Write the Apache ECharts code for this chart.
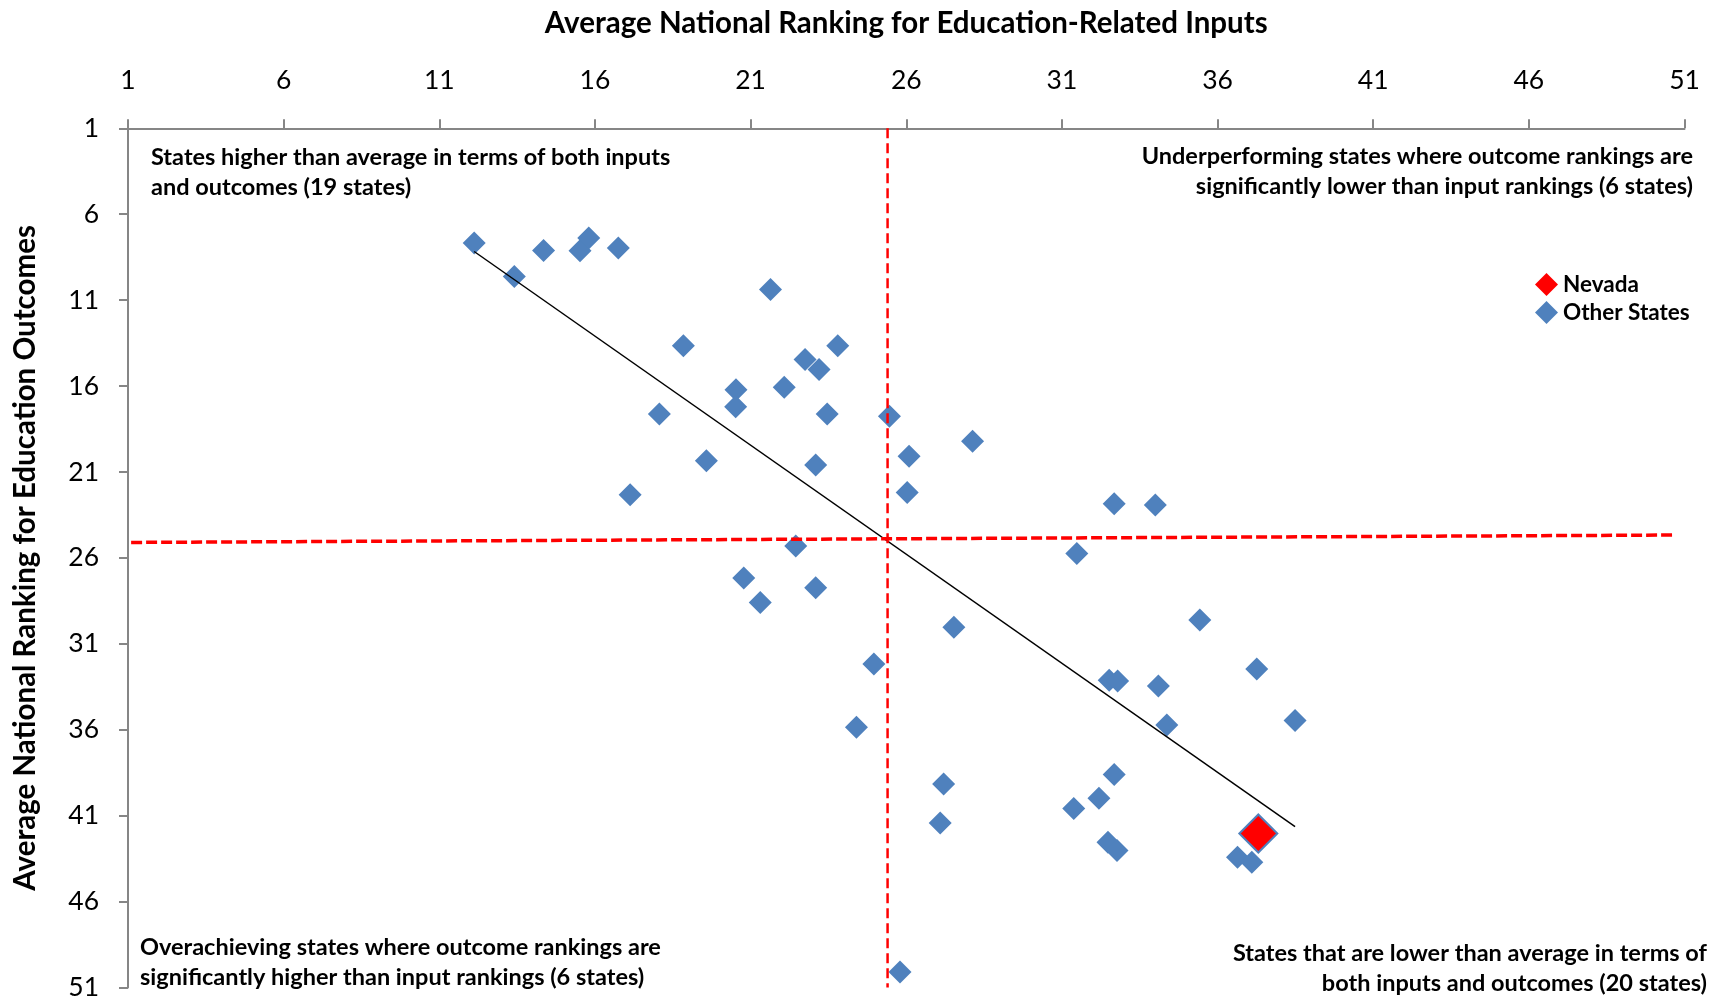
<!DOCTYPE html>
<html>
<head>
<meta charset="utf-8">
<script src="https://cdn.jsdelivr.net/npm/echarts@6.0.0/dist/echarts.min.js"></script>
<style>
  html, body { margin: 0; padding: 0; background: #fff; }
  #chart { width: 1718px; height: 1001px; }
</style>
</head>
<body>
<div id="chart"></div>
<script>
// rankings (x = inputs, y = outcomes)
const otherX = [12.12, 13.41, 14.35, 15.52, 15.8, 16.75, 21.64, 18.84, 23.8, 22.75,
  23.2, 20.53, 22.08, 20.52, 18.07, 23.46, 19.58, 23.09, 17.13, 25.46,
  28.13, 26.09, 26.03, 32.68, 34.0, 22.45, 20.78, 21.31, 23.09, 24.4,
  31.48, 27.53, 24.96, 35.43, 32.52, 32.79, 34.1, 37.26, 34.37, 38.49,
  27.2, 32.68, 32.19, 31.38, 27.09, 32.48, 32.77, 36.64, 37.1, 25.8];
const otherY = [7.68, 9.62, 8.11, 8.13, 7.39, 7.97, 10.38, 13.65, 13.65, 14.46,
  15.04, 16.21, 16.07, 17.21, 17.62, 17.62, 20.35, 20.6, 22.33, 17.76,
  19.21, 20.08, 22.19, 22.85, 22.92, 25.31, 27.17, 28.6, 27.73, 35.85,
  25.75, 30.04, 32.17, 29.61, 33.12, 33.16, 33.45, 32.46, 35.73, 35.46,
  39.16, 38.6, 39.99, 40.59, 41.42, 42.55, 43.03, 43.42, 43.71, 50.1];
const nevadaX = [37.31];
const nevadaY = [42.04];

// trend line + average lines
const trendX = [12.12, 38.49];
const trendY = [8.17, 41.64];
const avgInputX = [25.4, 25.4];
const avgInputY = [1, 51];
const avgOutcomeX = [1.1, 50.6];
const avgOutcomeY = [25.1, 24.67];

const tickValues = [1, 6, 11, 16, 21, 26, 31, 36, 41, 46, 51];

const pairs = (xs, ys) => xs.map((x, i) => [x, ys[i]]);

const chartDom = document.getElementById('chart');
const myChart = echarts.init(chartDom);
window.addEventListener('resize', () => {
  myChart.resize();
});

const FONT = 'Lato';
const axisGray = '#868686';

const notes = [
  { x: 151, y: 142, align: 'left', text: 'States higher than average in terms of both inputs\nand outcomes (19 states)' },
  { x: 1693, y: 141, align: 'right', text: 'Underperforming states where outcome rankings are\nsignificantly lower than input rankings (6 states)' },
  { x: 140, y: 932, align: 'left', text: 'Overachieving states where outcome rankings are\nsignificantly higher than input rankings (6 states)' },
  { x: 1707, y: 938, align: 'right', text: 'States that are lower than average in terms of\nboth inputs and outcomes (20 states)' }
];

const option = {
  animation: false,
  backgroundColor: '#fff',
  grid: { left: 128, right: 33.5, top: 128.3, bottom: 12.3 },
  legend: {
    data: [
      { name: 'Nevada', itemStyle: { borderWidth: 0 } },
      { name: 'Other States' }
    ],
    orient: 'vertical',
    left: 1530,
    top: 268,
    itemWidth: 23,
    itemHeight: 23,
    itemGap: 5,
    textStyle: { fontFamily: FONT, fontWeight: 'bold', fontSize: 22.5, color: '#000' }
  },
  xAxis: {
    type: 'value',
    position: 'top',
    min: 1,
    max: 51,
    name: 'Average National Ranking for Education-Related Inputs',
    nameLocation: 'middle',
    nameGap: 90,
    nameTextStyle: { fontFamily: FONT, fontWeight: 'bold', fontSize: 29.5, color: '#000' },
    axisLine: { onZero: false, lineStyle: { color: axisGray, width: 2 } },
    axisTick: { length: 9, lineStyle: { color: axisGray, width: 2 }, customValues: tickValues },
    axisLabel: { fontFamily: FONT, fontSize: 26.5, color: '#000', margin: 34, customValues: tickValues },
    splitLine: { show: false }
  },
  yAxis: {
    type: 'value',
    inverse: true,
    min: 1,
    max: 51,
    name: 'Average National Ranking for Education Outcomes',
    nameLocation: 'middle',
    nameRotate: 90,
    nameGap: 88,
    nameTextStyle: { fontFamily: FONT, fontWeight: 'bold', fontSize: 29.5, color: '#000' },
    axisLine: { show: true, onZero: false, lineStyle: { color: axisGray, width: 2 } },
    axisTick: { show: true, length: 9, lineStyle: { color: axisGray, width: 2 }, customValues: tickValues },
    axisLabel: { fontFamily: FONT, fontSize: 26.5, color: '#000', margin: 29, customValues: tickValues },
    splitLine: { show: false }
  },
  series: [
    {
      name: 'Other States',
      type: 'scatter',
      symbol: 'diamond',
      symbolSize: 23,
      itemStyle: { color: '#4F81BD', opacity: 1 },
      data: pairs(otherX, otherY)
    },
    {
      name: 'Nevada',
      type: 'scatter',
      symbol: 'diamond',
      symbolSize: 38,
      itemStyle: { color: '#FF0000', borderColor: '#4F81BD', borderWidth: 2, opacity: 1 },
      data: pairs(nevadaX, nevadaY)
    },
    {
      name: 'trend',
      type: 'line',
      symbol: 'none',
      silent: true,
      lineStyle: { color: '#000', width: 1.5 },
      data: pairs(trendX, trendY)
    },
    {
      name: 'avgInput',
      type: 'line',
      symbol: 'none',
      silent: true,
      lineStyle: { color: '#FF0000', width: 2.5, type: [10, 5] },
      data: pairs(avgInputX, avgInputY)
    },
    {
      name: 'avgOutcome',
      type: 'line',
      symbol: 'none',
      silent: true,
      lineStyle: { color: '#FF0000', width: 3.5, type: [11, 4] },
      data: pairs(avgOutcomeX, avgOutcomeY)
    }
  ],
  graphic: notes.map((n) => ({
    type: 'text',
    x: n.x,
    y: n.y,
    style: {
      text: n.text,
      fill: '#000',
      fontFamily: FONT,
      fontWeight: 'bold',
      fontSize: 23.5,
      lineHeight: 30,
      align: n.align,
      verticalAlign: 'top'
    }
  }))
};

myChart.setOption(option);
</script>
</body>
</html>
